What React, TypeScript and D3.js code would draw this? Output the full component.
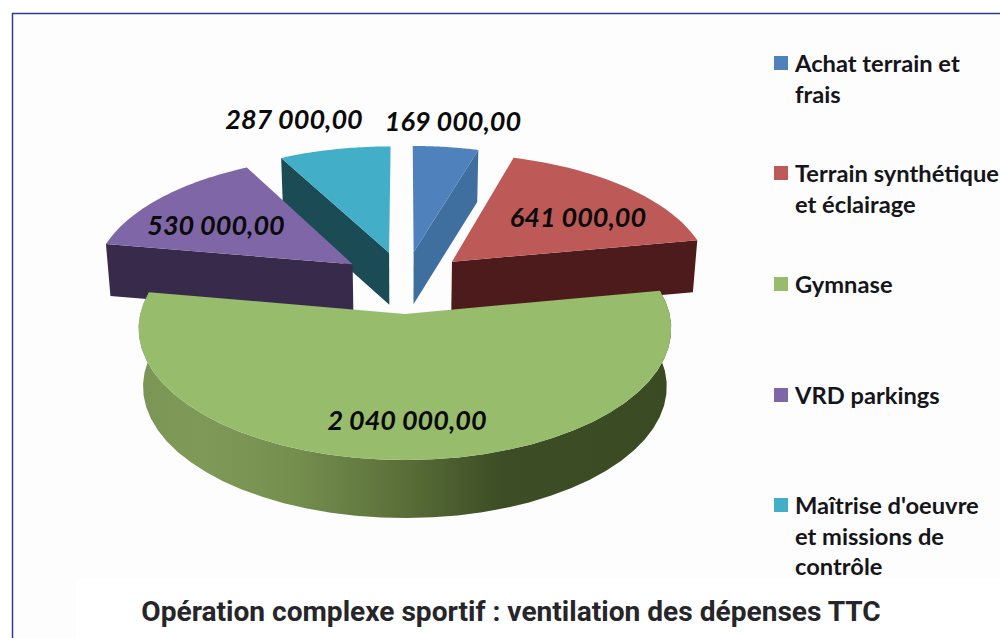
import React from 'react';
import * as d3 from 'd3';

const categories = ['Achat terrain et frais', 'Terrain synthétique et éclairage', 'Gymnase', 'VRD parkings', "Maîtrise d'oeuvre et missions de contrôle"];
const values = [169000, 641000, 2040000, 530000, 287000];
const valueLabels = ['169 000,00', '641 000,00', '2 040 000,00', '530 000,00', '287 000,00'];
const legendLines = [['Achat terrain et', 'frais'], ['Terrain synthétique', 'et éclairage'], ['Gymnase'], ['VRD parkings'], ["Maîtrise d'oeuvre", 'et missions de', 'contrôle']];
const topColors = ['#4f81bd', '#bd5a58', '#97bc6c', '#7f66a6', '#43aec8'];
const sideColors = ['#3f6f9f', '#4d1b1b', '#3c4c24', '#372a4a', '#1b4c56'];
const title = 'Opération complexe sportif : ventilation des dépenses TTC';

const width = 1000;
const height = 638;
const cx = 404.5;
const cy = 282;
const R = 260;
const explode = 65;
const depth = 52;
const greenDepth = 58;
const greenScale = 0.99;
const persp = 0.11;
const tilt = 0.477;

// world coordinates (y = away from viewer) to screen, z = how far down the wall
const project = (wx: number, wy: number, z = 0): [number, number] => {
  const s = 1 / (1 + (persp * wy) / R);
  const shrink = 1 - 0.015 * (z / depth);
  return [cx + wx * s * shrink, cy - wy * tilt * s + z];
};

const pie = d3.pie<number>().sort(null)(values);
const line = d3.line();
const colorTop = d3.scaleOrdinal<number, string>().domain(d3.range(values.length)).range(topColors);
const colorSide = d3.scaleOrdinal<number, string>().domain(d3.range(values.length)).range(sideColors);

const apex = (d: d3.PieArcDatum<number>) => {
  const mid = (d.startAngle + d.endAngle) / 2;
  return [explode * Math.sin(mid), explode * Math.cos(mid)];
};

const rim = (d: d3.PieArcDatum<number>, a: number, z = 0) => {
  const [ax, ay] = apex(d);
  const r = d.index === 2 ? R * greenScale : R;
  return project(ax + r * Math.sin(a), ay + r * Math.cos(a), z);
};

const arcAngles = (d: d3.PieArcDatum<number>) =>
  d3.range(41).map((i) => d.startAngle + ((d.endAngle - d.startAngle) * i) / 40);

const topFace = (d: d3.PieArcDatum<number>) => {
  const [ax, ay] = apex(d);
  return line([project(ax, ay), ...arcAngles(d).map((a) => rim(d, a))]) + 'Z';
};

const cutFace = (d: d3.PieArcDatum<number>, a: number) => {
  const [ax, ay] = apex(d);
  return line([project(ax, ay), rim(d, a), rim(d, a, depth), project(ax, ay, depth)]) + 'Z';
};

const outerWall = (d: d3.PieArcDatum<number>) => {
  const angles = arcAngles(d);
  return line([...angles.map((a) => rim(d, a)), ...angles.slice().reverse().map((a) => rim(d, a, greenDepth))]) + 'Z';
};

const labelPos: [number, number][] = [[453, 131], [578, 227], [407, 430], [216, 235], [294, 129]];
const legendY = [72, 182, 293, 404, 514];
const legendRow = 30.7;

export default function App() {
  const [blue, red, green, purple, teal] = pie;
  return (
    <svg width={width} height={height} style={{ position: 'absolute', left: 0, top: 0, background: '#fff' }}>
      <defs>
        <linearGradient id="wall" x1="0" x2="1" y1="0" y2="0">
          <stop offset="0" stopColor="#7a9555" />
          <stop offset="0.12" stopColor="#7f9a58" />
          <stop offset="0.3" stopColor="#748e4e" />
          <stop offset="0.5" stopColor="#596e38" />
          <stop offset="0.68" stopColor="#3d4d25" />
          <stop offset="1" stopColor="#3a4a22" />
        </linearGradient>
      </defs>
      <rect x={12.5} y={13.5} width={1000} height={640} fill="#fdfdfd" stroke="#2e3d8f" strokeWidth={1.5} />
      <rect x={76} y={578} width={924} height={60} fill="#fff" />

      {/* back slices first */}
      <path d={cutFace(blue, blue.endAngle)} fill={colorSide(0)} />
      <path d={topFace(blue)} fill={colorTop(0)} />
      <path d={cutFace(teal, teal.startAngle)} fill={colorSide(4)} />
      <path d={topFace(teal)} fill={colorTop(4)} />
      <path d={cutFace(purple, purple.startAngle)} fill={colorSide(3)} />
      <path d={topFace(purple)} fill={colorTop(3)} />
      <path d={cutFace(red, red.endAngle)} fill={colorSide(1)} />
      <path d={topFace(red)} fill={colorTop(1)} />
      <path d={outerWall(green)} fill="url(#wall)" />
      <path d={topFace(green)} fill={colorTop(2)} />

      <g fontFamily="Lato, sans-serif" fontWeight={700} fontStyle="italic" fontSize={27} fill="#0a0a0a" textAnchor="middle">
        {valueLabels.map((t, i) => (
          <text key={categories[i]} x={labelPos[i][0]} y={labelPos[i][1]}>{t}</text>
        ))}
      </g>

      <g fontFamily="Lato, sans-serif" fontWeight={700} fontSize={23.7} fill="#15151a">
        {legendLines.map((lines, i) => (
          <g key={categories[i]}>
            <rect x={774} y={legendY[i] - 16} width={14} height={14} fill={colorTop(i)} />
            {lines.map((l, j) => (
              <text key={l} x={795} y={legendY[i] + j * legendRow}>{l}</text>
            ))}
          </g>
        ))}
      </g>

      <text x={511} y={621} textAnchor="middle" fontFamily="Roboto, sans-serif" fontWeight={700} fontSize={28.1} fill="#26262a">{title}</text>
    </svg>
  );
}
